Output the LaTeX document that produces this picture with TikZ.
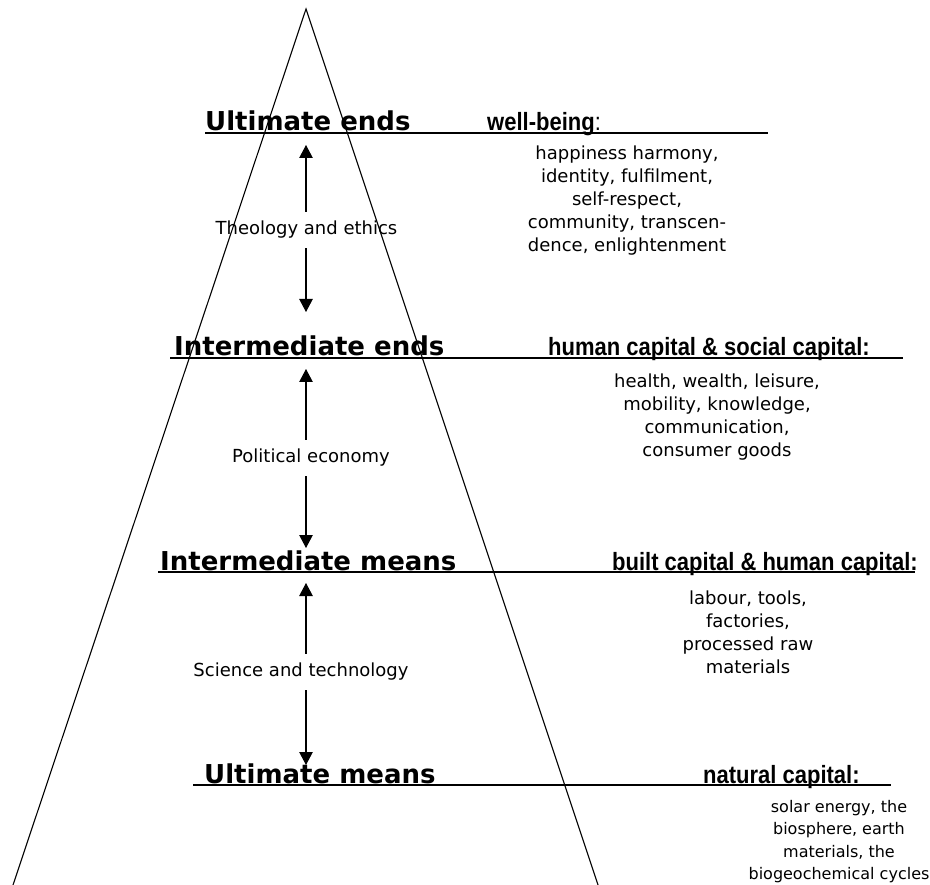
\documentclass[tikz,border=0pt]{standalone}
\usepackage{fontspec}
\setmainfont{DejaVu Sans}
\newfontfamily\capfont{Liberation Sans}
\usetikzlibrary{arrows.meta}
% condensed bold for the capital headings
\newcommand\narrowbold[1]{\scalebox{0.88}[1]{\bfseries #1}}

\begin{document}
\begin{tikzpicture}[x=1pt,y=-1pt,
  level/.style={font=\fontsize{26}{30}\selectfont\bfseries, inner sep=0pt, anchor=base west},
  capital/.style={font=\capfont\fontsize{25}{28}\selectfont, inner sep=0pt, anchor=base west},
  items/.style={font=\fontsize{18}{23}\selectfont, align=center, inner sep=0pt, anchor=north},
  smallitems/.style={items, font=\fontsize{16}{22.5}\selectfont},
  discipline/.style={font=\fontsize{18}{22}\selectfont, inner sep=0pt, minimum height=36pt},
  rule/.style={line width=1.2pt},
  edge/.style={line width=1.1pt},
  tip/.style={line width=1.1pt, -{Triangle[length=13pt,width=13.5pt]}}
]
\useasboundingbox (0,0) rectangle (930,885);

% the pyramid
\coordinate (apex)  at (306,9);
\coordinate (baseL) at (13,885);
\coordinate (baseR) at (598,885);
\draw[edge] (baseL) -- (apex) -- (baseR);

% level rules
\coordinate (r1a) at (205,133); \coordinate (r1b) at (768,133);
\coordinate (r2a) at (170,358); \coordinate (r2b) at (903,358);
\coordinate (r3a) at (158,572); \coordinate (r3b) at (915,572);
\coordinate (r4a) at (193,785); \coordinate (r4b) at (891,785);
\draw[rule] (r1a) -- (r1b);
\draw[rule] (r2a) -- (r2b);
\draw[rule] (r3a) -- (r3b);
\draw[rule] (r4a) -- (r4b);

% level names
\node[level] (ue) at (205,131) {Ultimate ends};
\node[level] (ie) at (174,356) {Intermediate ends};
\node[level] (im) at (160,570) {Intermediate means};
\node[level] (um) at (204,783) {Ultimate means};

% capital headings
\node[capital] (c1) at (487,131) {\narrowbold{well-being}\scalebox{0.88}[1]{:}};
\node[capital] (c2) at (548,356) {\narrowbold{human capital \& social capital:}};
\node[capital] (c3) at (612,570) {\narrowbold{built capital \& human capital:}};
\node[capital] (c4) at (703,783) {\narrowbold{natural capital:}};

% item lists
\node[items] (l1) at (627,146) {happiness harmony,\\identity, fulfilment,\\self-respect,\\community, transcen-\\dence, enlightenment};
\node[items] (l2) at (717,374) {health, wealth, leisure,\\mobility, knowledge,\\communication,\\consumer goods};
\node[items] (l3) at (748,591) {labour, tools,\\factories,\\processed raw\\materials};
\node[smallitems] (l4) at (839,800) {solar energy, the\\biosphere, earth\\materials, the\\biogeochemical cycles};

% disciplines linking the levels
\node[discipline] (d1) at (306.5,230) {Theology and ethics};
\node[discipline] (d2) at (311,458) {Political economy};
\node[discipline] (d3) at (301,672) {Science and technology};

\coordinate (u1) at (306,145); \coordinate (w1) at (306,312);
\coordinate (u2) at (306,369); \coordinate (w2) at (306,548);
\coordinate (u3) at (306,583); \coordinate (w3) at (306,765);

\draw[tip] (u1 |- d1.north) -- (u1);
\draw[tip] (w1 |- d1.south) -- (w1);
\draw[tip] (u2 |- d2.north) -- (u2);
\draw[tip] (w2 |- d2.south) -- (w2);
\draw[tip] (u3 |- d3.north) -- (u3);
\draw[tip] (w3 |- d3.south) -- (w3);
\end{tikzpicture}
\end{document}
